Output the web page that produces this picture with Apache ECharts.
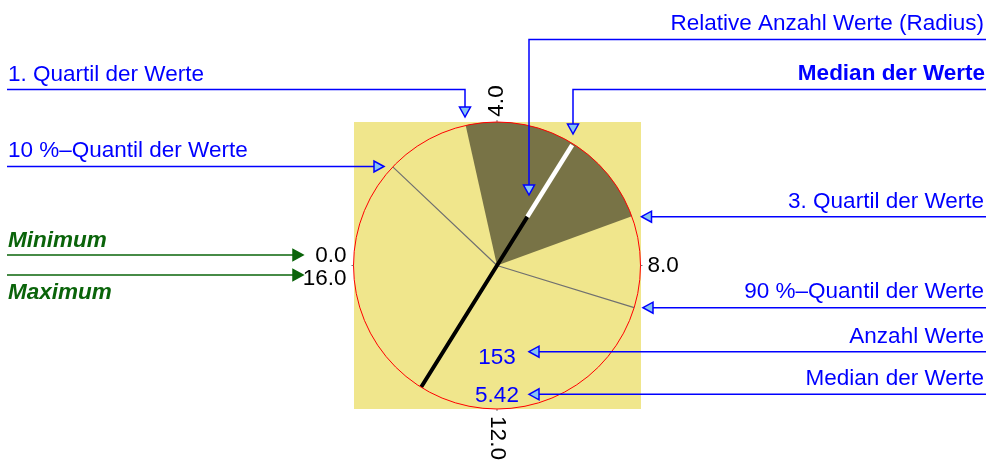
<!DOCTYPE html>
<html>
<head>
<meta charset="utf-8">
<script src="https://cdn.jsdelivr.net/npm/echarts@6/dist/echarts.min.js"></script>
<style>
  html, body { margin: 0; padding: 0; background: #fff; }
  #chart { width: 989px; height: 464px; }
</style>
</head>
<body>
<div id="chart"></div>
<script>
// scale of the dial (values wrap around the circle)
const valueRange = [0, 16];
const tickValues = [0, 4, 8, 12, 16];
const tickLabels = ['0.0', '4.0', '8.0', '12.0', '16.0'];

// distribution summary
const quantileProbs = [0.1, 0.25, 0.5, 0.75, 0.9];
const quantileValues = [1.93, 3.44, 5.42, 7.11, 8.76];
const countValue = 153;
const relativeCount = 0.40;

const q10 = quantileValues[0];
const q25 = quantileValues[1];
const median = quantileValues[2];
const q75 = quantileValues[3];
const q90 = quantileValues[4];
const half = (valueRange[1] - valueRange[0]) / 2;

const FONT = '"Liberation Sans", Arial, sans-serif';
const BLUE = '#0000ff';
const ARROW_FILL = '#87c4f2';
const GREEN = '#0a640a';

// placement of the tick labels around the dial
const tickLabelLayout = [
  { dx: -7, dy: -9.5, align: 'right', rot: 0 },
  { dx: 0, dy: -21, align: 'center', rot: Math.PI / 2 },
  { dx: 7, dy: 0.5, align: 'left', rot: 0 },
  { dx: 0, dy: 29, align: 'center', rot: -Math.PI / 2 },
  { dx: -7, dy: 13.5, align: 'right', rot: 0 }
];

const chart = echarts.init(document.getElementById('chart'));

const arrowHead = (x, y, dir, fill, stroke) => {
  const L = 10, W = 5.5;
  let pts;
  if (dir === 'down') pts = [[x, y], [x - W, y - L], [x + W, y - L]];
  else if (dir === 'right') pts = [[x, y], [x - L, y - W], [x - L, y + W]];
  else pts = [[x, y], [x + L, y - W], [x + L, y + W]];
  return {
    type: 'polygon', z: 100, silent: true,
    shape: { points: pts },
    style: { fill: fill, stroke: stroke, lineWidth: 1.5 }
  };
};

const leader = (points, color) => ({
  type: 'polyline', z: 100, silent: true,
  shape: { points: points },
  style: { stroke: color, lineWidth: 1.5, fill: null }
});

const label = (text, x, y, align, color, weight, style) => ({
  type: 'text', z: 100, silent: true, x: x, y: y,
  style: {
    text: text, fill: color, align: align, verticalAlign: 'middle',
    font: (style || 'normal') + ' ' + (weight || 'normal') + ' 22.5px ' + FONT
  }
});

const annotations = [
  // left side
  label('1. Quartil der Werte', 8, 74.5, 'left', BLUE),
  leader([[7, 89.5], [465, 89.5], [465, 107]], BLUE),
  arrowHead(465, 117, 'down', ARROW_FILL, BLUE),

  label('10 %\u2013Quantil der Werte', 8, 151, 'left', BLUE),
  leader([[7, 166.5], [374, 166.5]], BLUE),
  arrowHead(384, 166.5, 'right', ARROW_FILL, BLUE),

  label('Minimum', 8, 241, 'left', GREEN, 'bold', 'italic'),
  leader([[7, 255], [293, 255]], GREEN),
  arrowHead(303, 255, 'right', GREEN, GREEN),

  label('Maximum', 8, 293, 'left', GREEN, 'bold', 'italic'),
  leader([[7, 275], [293, 275]], GREEN),
  arrowHead(303, 275, 'right', GREEN, GREEN),

  // right side
  label('Relative Anzahl Werte (Radius)', 984, 23.5, 'right', BLUE),
  leader([[986, 39.5], [529, 39.5], [529, 185]], BLUE),
  arrowHead(529, 195, 'down', ARROW_FILL, BLUE),

  label('Median der Werte', 985, 73.5, 'right', BLUE, 'bold'),
  leader([[986, 89.5], [573, 89.5], [573, 124]], BLUE),
  arrowHead(573, 134, 'down', ARROW_FILL, BLUE),

  label('3. Quartil der Werte', 984, 201.5, 'right', BLUE),
  leader([[986, 216.7], [651.5, 216.7]], BLUE),
  arrowHead(641.5, 216.7, 'left', ARROW_FILL, BLUE),

  label('90 %\u2013Quantil der Werte', 984, 292, 'right', BLUE),
  leader([[986, 307.7], [653, 307.7]], BLUE),
  arrowHead(643, 307.7, 'left', ARROW_FILL, BLUE),

  label('Anzahl Werte', 984, 336.5, 'right', BLUE),
  leader([[986, 351.7], [539, 351.7]], BLUE),
  arrowHead(529, 351.7, 'left', ARROW_FILL, BLUE),

  label('Median der Werte', 984, 378.5, 'right', BLUE),
  leader([[986, 394.3], [539, 394.3]], BLUE),
  arrowHead(529, 394.3, 'left', ARROW_FILL, BLUE),

  // values written inside the dial
  label(String(countValue), 497, 358, 'center', BLUE),
  label(median.toFixed(2), 497, 396, 'center', BLUE)
];

const option = {
  animation: false,
  polar: { center: [497, 265.5], radius: 143.5 },
  angleAxis: {
    type: 'value',
    min: valueRange[0],
    max: valueRange[1],
    interval: 4,
    startAngle: 180,
    clockwise: true,
    z: 10,
    axisLine: { lineStyle: { color: '#ff0000', width: 1 } },
    axisTick: { show: true, length: 2, lineStyle: { color: '#777' } },
    axisLabel: { show: false },
    splitLine: { show: false },
    splitArea: { show: false }
  },
  radiusAxis: { min: 0, max: 1, show: false },
  graphic: [
    {
      type: 'rect', z: 0, silent: true,
      shape: { x: 354, y: 122, width: 287, height: 287 },
      style: { fill: '#f0e68c' }
    }
  ].concat(annotations),
  series: [
    {
      // inter-quartile sector
      type: 'custom',
      coordinateSystem: 'polar',
      z: 2,
      encode: { radius: 0, angle: [1, 2] },
      data: [[1, q25, q75]],
      renderItem: (params, api) => {
        const a0 = api.value(1), a1 = api.value(2);
        const pts = [api.coord([0, a0])];
        const steps = 60;
        for (let i = 0; i <= steps; i++) {
          pts.push(api.coord([1, a0 + (a1 - a0) * i / steps]));
        }
        return {
          type: 'polygon',
          shape: { points: pts },
          style: { fill: '#787346', stroke: null }
        };
      }
    },
    {
      // 10 % and 90 % quantile rays
      type: 'line',
      coordinateSystem: 'polar',
      z: 3,
      symbol: 'none',
      silent: true,
      lineStyle: { color: '#707070', width: 1.2 },
      data: [[1, q10], [0, q10], [0, q90], [1, q90]]
    },
    {
      // median diameter, black part
      type: 'line',
      coordinateSystem: 'polar',
      z: 4,
      symbol: 'none',
      silent: true,
      lineStyle: { color: '#000', width: 4, cap: 'butt' },
      data: [[1, median + half], [0, median + half], [relativeCount, median]]
    },
    {
      // median, remaining part of the radius
      type: 'line',
      coordinateSystem: 'polar',
      z: 4,
      symbol: 'none',
      silent: true,
      lineStyle: { color: '#fff', width: 4.5, cap: 'butt' },
      data: [[relativeCount, median], [0.99, median]]
    },
    {
      // tick labels around the dial
      type: 'custom',
      coordinateSystem: 'polar',
      z: 5,
      encode: { radius: 0, angle: 1 },
      data: tickValues.map((v, i) => [1, v, i]),
      renderItem: (params, api) => {
        const idx = api.value(2);
        const lay = tickLabelLayout[idx];
        const p = api.coord([1, api.value(1)]);
        return {
          type: 'text',
          x: p[0] + lay.dx,
          y: p[1] + lay.dy,
          rotation: lay.rot,
          style: {
            text: tickLabels[idx],
            fill: '#000',
            align: lay.align,
            verticalAlign: 'middle',
            font: '22.5px ' + FONT
          }
        };
      }
    }
  ]
};

chart.setOption(option);
</script>
</body>
</html>
